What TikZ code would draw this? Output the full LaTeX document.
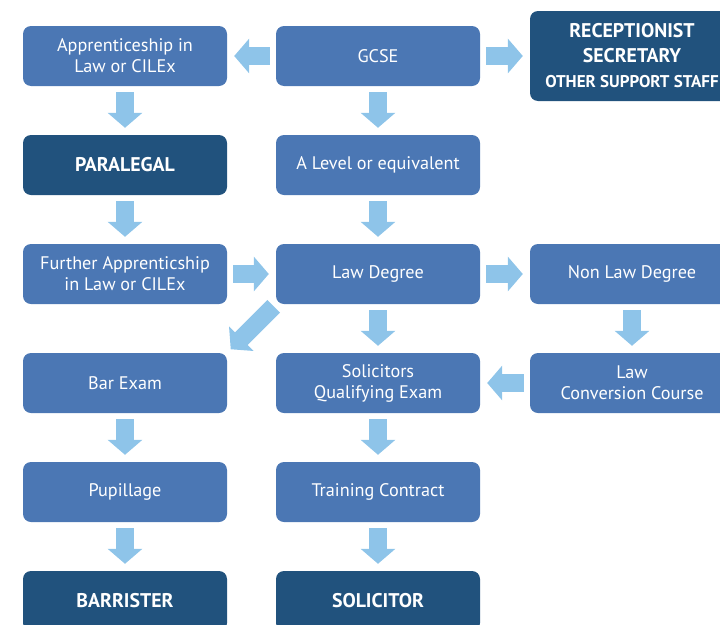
\documentclass[tikz,border=0pt]{standalone}
\usepackage{fontspec}
\setmainfont{PT Sans}
\usepackage{tikz}
\usetikzlibrary{positioning,arrows.meta}
\definecolor{boxblue}{HTML}{4B77B4}
\definecolor{darkblue}{HTML}{21527D}
\definecolor{arrowblue}{HTML}{8EC4E9}

\begin{document}
\begin{tikzpicture}
            [x=1pt,y=-1pt,every node/.style={rounded corners=8pt, fill=boxblue, text=white, inner sep=0pt, minimum width=204pt, minimum height=60pt, align=center, font=\fontsize{18.2}{21}\selectfont},
             goal/.style={fill=darkblue, font=\fontsize{19.8}{25}\selectfont\bfseries},
             fat/.style={line width=18pt, arrowblue, -{Triangle[length=15pt,width=34pt]}, shorten <=6pt, shorten >=7pt}]
            \useasboundingbox (0,0) rectangle (720,624);
            \node (app) at (125,56) {Apprenticeship in\\Law or CILEx};
            \node (gcse) at (378,56) {GCSE};
            \node[goal, minimum height=90pt] (staff) at (632,56) {RECEPTIONIST\\SECRETARY\\{\fontsize{17}{18}\selectfont OTHER SUPPORT STAFF}};
            \node[goal] (para) at (125,165) {PARALEGAL};
            \node (alev) at (378,165) {A Level or equivalent};
            \node (fur) at (125,274) {Further Apprenticship\\in Law or CILEx};
            \node (ld) at (378,274) {Law Degree};
            \node (nld) at (632,274) {Non Law Degree};
            \node (bar) at (125,383) {Bar Exam};
            \node (sqe) at (378,383) {Solicitors\\Qualifying Exam};
            \node (lcc) at (632,383) {Law\\Conversion Course};
            \node (pup) at (125,492) {Pupillage};
            \node (tc) at (378,492) {Training Contract};
            \node[goal] (brr) at (125,601) {BARRISTER};
            \node[goal] (sol) at (378,601) {SOLICITOR};

            \foreach \from/\to in {gcse/app, gcse/staff, app/para, gcse/alev, para/fur, alev/ld, fur/ld, ld/nld, ld/sqe, nld/lcc, lcc/sqe, bar/pup, pup/brr, sqe/tc, tc/sol}
            \draw[fat] (\from) -- (\to);
            \draw[fat, shorten <=3pt, shorten >=5pt] (ld.south west) -- (bar.north east);
          \end{tikzpicture}
\end{document}
